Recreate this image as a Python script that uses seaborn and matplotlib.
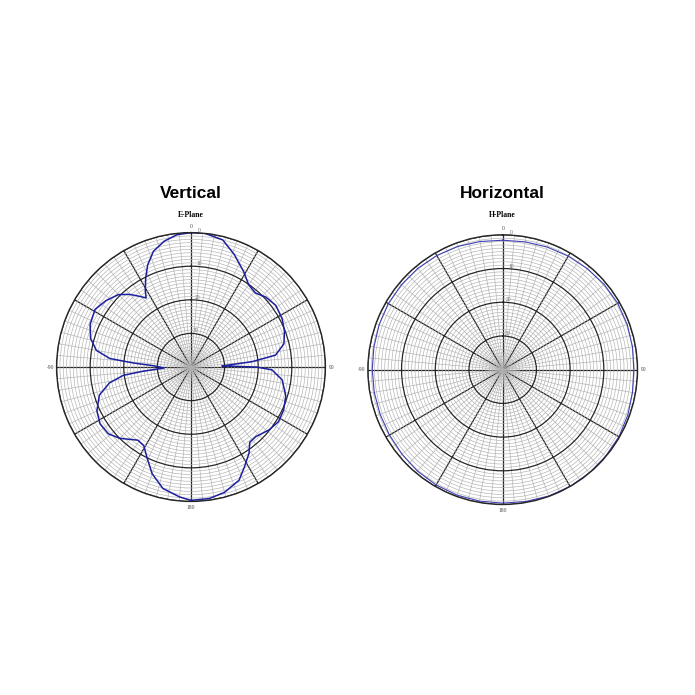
import numpy as np
import pandas as pd
import seaborn as sns
from matplotlib import pyplot as plt

# E-plane (vertical) pattern: angle in degrees (clockwise from top), level in dB
v_angle = [-180, -175, -167, -160, -154, -149, -144, -135, -129, -122, -115, -107,
           -101, -97, -95, -92, -88, -86, -84, -80, -74, -67, -59, -52, -45, -40,
           -36, -33, -31, -27, -23, -18, -12, -6, 0, 6, 14, 21, 29, 35, 41, 47, 54,
           62, 69, 76, 82, 85, 87, 88, 90, 92, 98, 107, 115, 122, 129, 137, 142,
           146, 152, 157, 165, 172, 180]
v_db = [-0.3, -1.2, -2.9, -6.2, -10.1, -12.7, -13.1, -10.0, -8.4, -8.1, -9.1, -11.5,
        -15.3, -19.7, -25.7, -32.0, -28.8, -22.8, -15.7, -11.4, -8.9, -7.4, -6.7, -7.9,
        -9.5, -11.8, -14.0, -15.5, -13.6, -10.3, -7.0, -3.8, -1.7, -0.4, 0.0, 0.0,
        -1.0, -4.1, -7.6, -10.1, -10.8, -9.5, -8.8, -9.3, -10.2, -11.5, -14.6, -21.8,
        -28.9, -30.8, -20.5, -15.9, -12.6, -10.5, -9.6, -9.3, -10.2, -11.7, -11.6,
        -9.1, -6.2, -3.4, -1.4, -0.5, -0.3]

# H-plane (horizontal) pattern, every 10 degrees
h_angle = list(range(0, 370, 10))
h_db = [-1.6, -1.5, -1.3, -1.1, -0.9, -0.7, -0.6, -0.7, -0.9, -1.1, -0.9, -0.5,
        -0.2, -0.1, 0.0, 0.0, -0.1, -0.3, -0.4, -0.4, -0.4, -0.5, -0.7, -1.0,
        -1.2, -1.3, -1.3, -1.3, -1.2, -1.0, -0.8, -0.8, -0.8, -0.9, -1.1, -1.4, -1.6]

titles = ["Vertical", "Horizontal"]
subtitles = ["E-Plane", "H-Plane"]
ring_labels = ["40", "30", "20", "10", "0"]
dir_labels = {0: "0", 90: "90", 180: "180", 270: "-90"}

fig = plt.figure(figsize=(6.95, 6.95), dpi=100)
fig.patch.set_facecolor("white")

rects = [[0.0814, 0.2785, 0.3868, 0.3868], [0.5293, 0.2741, 0.3880, 0.3880]]
patterns = [(v_angle, v_db, "#1b1f9e", 1.1), (h_angle, h_db, "#4040b4", 0.8)]

for i, (rect, (ang, db, col, lw)) in enumerate(zip(rects, patterns)):
    ax = fig.add_axes(rect, projection="polar")
    ax.set_theta_zero_location("N")
    ax.set_theta_direction(-1)
    ax.set_ylim(-40, 0)

    # grid: 1 dB rings, 5 degree spokes in grey, 10 dB / 30 degree in black
    ax.set_yticks([-40, -30, -20, -10, 0])
    ax.set_yticks(np.arange(-40, 0, 1), minor=True)
    ax.set_xticks(np.deg2rad(np.arange(0, 360, 30)))
    ax.set_xticks(np.deg2rad(np.arange(0, 360, 5)), minor=True)
    ax.grid(which="minor", color="#b0b0b0", lw=0.45)
    ax.grid(which="major", color="#262626", lw=0.9)
    ax.set_axisbelow(True)

    ax.set_yticklabels(ring_labels, fontsize=4, color="#666666",
                       family="Liberation Serif")
    ax.set_rlabel_position(3)
    ax.set_xticklabels([dir_labels.get(a, "") for a in range(0, 360, 30)],
                       fontsize=4, color="#444444", family="Liberation Serif")
    ax.tick_params(axis="x", pad=-6)
    ax.spines["polar"].set_color("#262626")
    ax.spines["polar"].set_linewidth(1.0)

    df = pd.DataFrame({"theta": np.deg2rad(ang), "db": db})
    sns.lineplot(data=df, x="theta", y="db", sort=False, color=col, lw=lw, ax=ax)
    ax.set_xlabel("")
    ax.set_ylabel("")

    cx = rect[0] + rect[2] / 2
    fig.text(cx, 0.722, titles[i], ha="center", va="center", fontsize=12.5,
             fontweight="bold", family="Liberation Sans")
    fig.text(cx, 0.691, subtitles[i], ha="center", va="center", fontsize=5.5,
             fontweight="bold", family="Liberation Serif")

fig.savefig("out.png", dpi=100, facecolor="white")
